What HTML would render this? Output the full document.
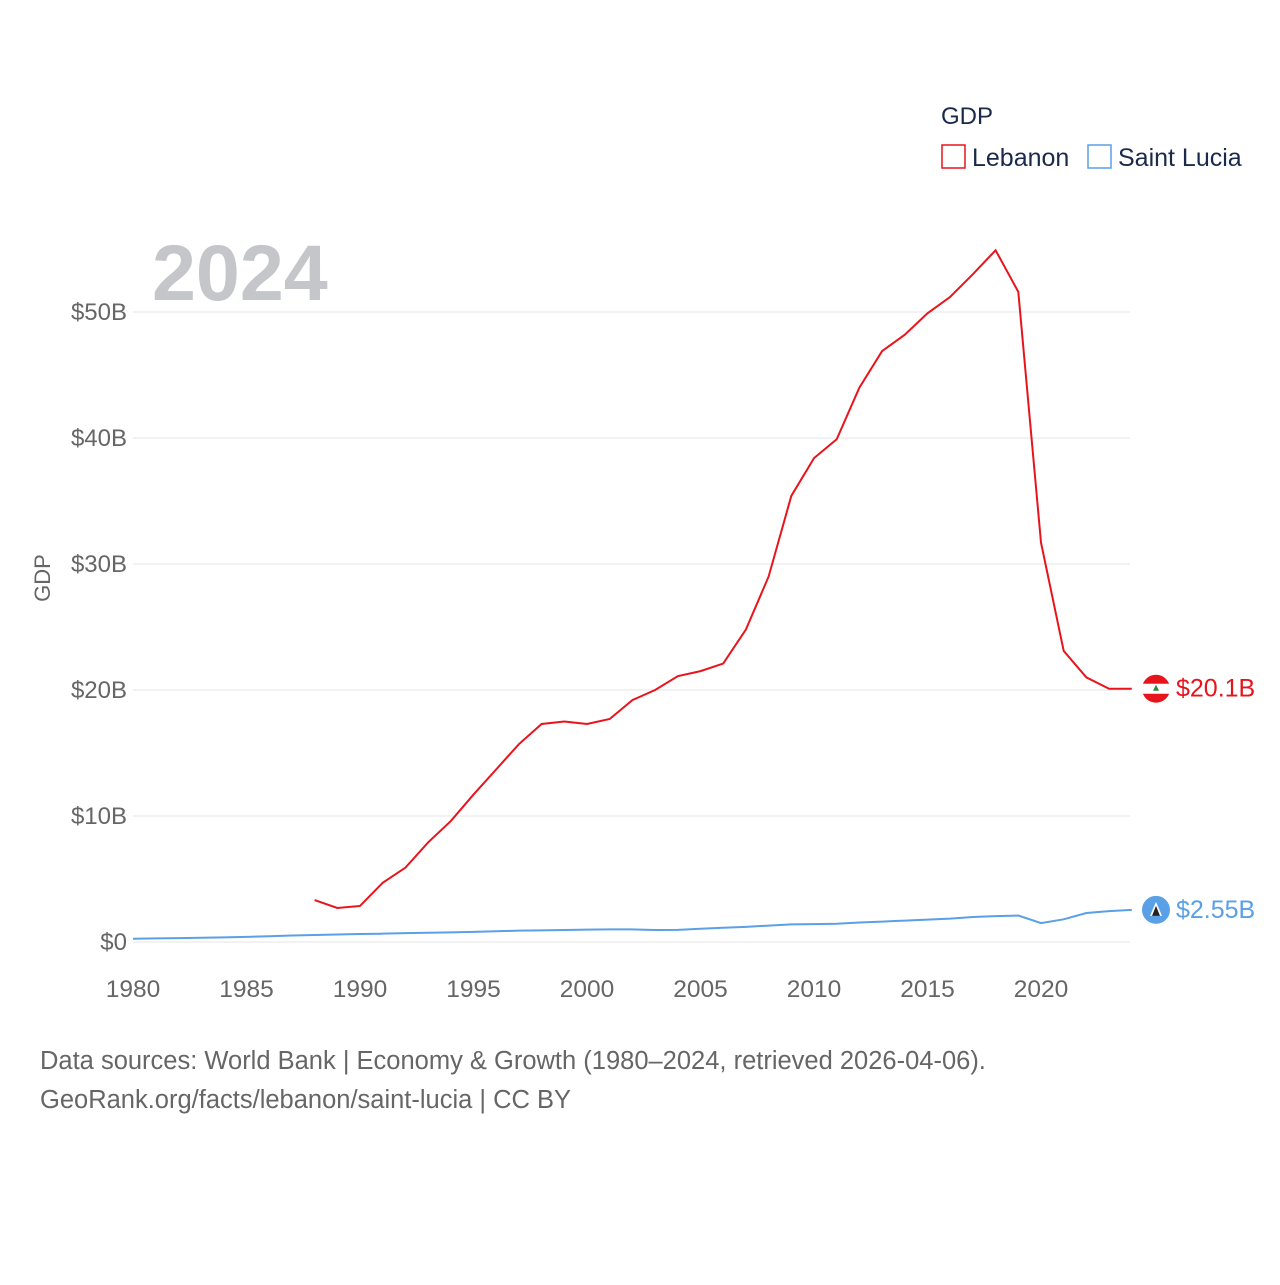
<!DOCTYPE html>
<html><head><meta charset="utf-8"><style>
body{margin:0;background:#fff;font-family:"Liberation Sans",sans-serif;}
svg text{font-family:"Liberation Sans",sans-serif;}
</style></head><body>
<svg id="chart" width="1280" height="1280" xmlns="http://www.w3.org/2000/svg">
<text x="941" y="124" font-size="24" fill="#1a2a4a">GDP</text>
<g><rect x="942" y="145" width="23" height="23" fill="none" stroke="#e8141c" stroke-width="1.5"/><text x="972" y="166" font-size="25" fill="#1a2a4a">Lebanon</text></g>
<g><rect x="1088" y="145" width="23" height="23" fill="none" stroke="#5aa0e6" stroke-width="1.5"/><text x="1118" y="166" font-size="25" fill="#1a2a4a">Saint Lucia</text></g>
<text x="152" y="300" font-size="79" font-weight="bold" fill="#c4c6ca">2024</text>
<text transform="translate(50,578) rotate(-90)" text-anchor="middle" font-size="22" fill="#666">GDP</text>
<g id="grid"></g><g id="yticks"></g><g id="xticks"></g><g id="series"></g>
<text x="40" y="1069" font-size="25.5" fill="#666">Data sources: World Bank | Economy &amp; Growth (1980–2024, retrieved 2026-04-06).</text>
<text x="40" y="1108" font-size="25.5" fill="#666">GeoRank.org/facts/lebanon/saint-lucia | CC BY</text>
</svg>
<script>
const years=[];for(let y=1980;y<=2024;y++)years.push(y);
const lebanonYears=[1988,1989,1990,1991,1992,1993,1994,1995,1996,1997,1998,1999,2000,2001,2002,2003,2004,2005,2006,2007,2008,2009,2010,2011,2012,2013,2014,2015,2016,2017,2018,2019,2020,2021,2022,2023,2024];
const lebanon=[3.33,2.7,2.86,4.7,5.9,7.9,9.6,11.7,13.7,15.7,17.3,17.5,17.3,17.7,19.2,20.0,21.1,21.5,22.1,24.8,29.0,35.4,38.4,39.9,44.0,46.9,48.2,49.9,51.2,53.0,54.9,51.6,31.7,23.1,21.0,20.1,20.1];
const saintLucia=[0.2,0.2,0.2,0.22,0.26,0.29,0.31,0.34,0.37,0.41,0.46,0.52,0.56,0.6,0.63,0.66,0.7,0.73,0.76,0.8,0.85,0.9,0.92,0.95,0.98,1.0,1.0,0.95,0.96,1.05,1.13,1.2,1.3,1.4,1.42,1.45,1.55,1.62,1.7,1.78,1.86,1.98,2.05,2.1,1.5,1.8,2.3,2.45,2.55];
const yTicks=[0,10,20,30,40,50];
const xTicks=[1980,1985,1990,1995,2000,2005,2010,2015,2020];
const sl=saintLucia.slice(saintLucia.length-years.length);
const X=y=>133+(y-1980)*(1041-133)/40;
const Y=v=>942-v*(942-312)/50;
const NS="http://www.w3.org/2000/svg";
function mk(t,a,p){const e=document.createElementNS(NS,t);for(const k in a)e.setAttribute(k,a[k]);p.appendChild(e);return e;}
const grid=document.getElementById('grid'),yt=document.getElementById('yticks'),xt=document.getElementById('xticks'),ser=document.getElementById('series');
yTicks.forEach(v=>{
 const l=mk('line',{x1:133,x2:1130,y1:Y(v),y2:Y(v),stroke:'#e6e6e6','stroke-width':1},grid);
 
 
 const t=mk('text',{x:127,y:Y(v)+8,'text-anchor':'end','font-size':24,fill:'#666'},yt);
 t.textContent='$'+v+(v?'B':'');
 
 
});
xTicks.forEach(v=>{
 const t=mk('text',{x:X(v),y:997,'text-anchor':'middle','font-size':24.5,fill:'#666'},xt);
 t.textContent=v;
 
 
});
const lp=mk('polyline',{points:lebanonYears.map((y,i)=>X(y)+','+Y(lebanon[i])).join(' '),fill:'none',stroke:'#e8141c','stroke-width':2},ser);


const sp=mk('polyline',{points:years.map((y,i)=>X(y)+','+Y(sl[i])).join(' '),fill:'none',stroke:'#5aa0e6','stroke-width':2},ser);


const lv=lebanon[lebanon.length-1],sv=sl[sl.length-1];
const f1=mk('circle',{cx:1156,cy:Y(lv),r:14,fill:'#e8141c'},ser);


mk('rect',{x:1142,y:Y(lv)-5,width:28,height:10,fill:'#fff'},ser);
mk('path',{d:`M1156 ${Y(lv)-4} l-3 6 h6 z`,fill:'#2a8a3a'},ser);
const l1=mk('text',{x:1176,y:Y(lv)+8,'font-size':25,fill:'#e8141c'},ser);
l1.textContent='$'+lv+'B';


const f2=mk('circle',{cx:1156,cy:Y(sv),r:14,fill:'#5aa0e6'},ser);


mk('path',{d:`M1156 ${Y(sv)-8} l-6 14 h12 z`,fill:'#fff'},ser);
mk('path',{d:`M1156 ${Y(sv)-4} l-4 10 h8 z`,fill:'#222'},ser);
const l2=mk('text',{x:1176,y:Y(sv)+8,'font-size':25,fill:'#5aa0e6'},ser);
l2.textContent='$'+sv+'B';


</script>
</body></html>
